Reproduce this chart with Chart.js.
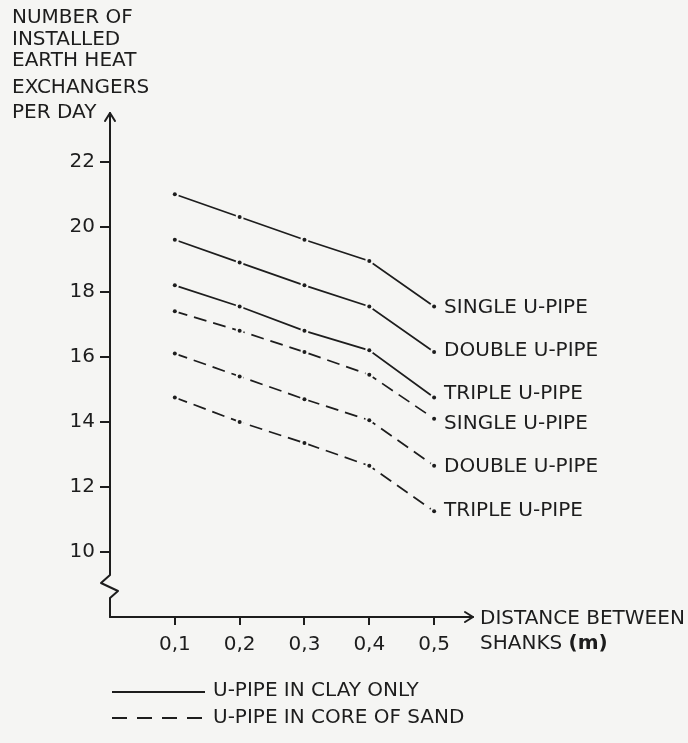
<!DOCTYPE html>
<html>
<head>
<meta charset="utf-8">
<script src="https://cdn.jsdelivr.net/npm/chart.js@4.4.1/dist/chart.umd.min.js"></script>
<style>
  html, body { margin: 0; padding: 0; background: #f5f5f3; }
  canvas { display: block; }
</style>
</head>
<body>
<canvas id="c" width="688" height="743"></canvas>
<script>
// Distance between shanks (m)
const distances = [0.1, 0.2, 0.3, 0.4, 0.5];

// Installed earth heat exchangers per day — U-pipe in clay only
const claySingle = [21.0, 20.3, 19.6, 18.95, 17.55];
const clayDouble = [19.6, 18.9, 18.2, 17.55, 16.15];
const clayTriple = [18.2, 17.55, 16.8, 16.2, 14.75];

// U-pipe in core of sand
const sandSingle = [17.4, 16.8, 16.15, 15.45, 14.1];
const sandDouble = [16.1, 15.4, 14.7, 14.05, 12.65];
const sandTriple = [14.75, 14.0, 13.35, 12.65, 11.25];

const seriesNames = ['SINGLE U-PIPE', 'DOUBLE U-PIPE', 'TRIPLE U-PIPE',
                     'SINGLE U-PIPE', 'DOUBLE U-PIPE', 'TRIPLE U-PIPE'];
const yTicks = [10, 12, 14, 16, 18, 20, 22];
const xTicks = [0.1, 0.2, 0.3, 0.4, 0.5];

const yTitle = ['NUMBER OF', 'INSTALLED', 'EARTH HEAT', 'EXCHANGERS', 'PER DAY'];
const xTitle = ['DISTANCE BETWEEN', 'SHANKS'];
const legendText = ['U-PIPE IN CLAY ONLY', 'U-PIPE IN CORE OF SAND'];

const INK = '#1d1d1d';
const PAPER = '#f5f5f3';
const FONT = '"DejaVu Sans", sans-serif';
const SAND_DASH = [13, 7];

const toPoints = vals => vals.map((v, i) => ({ x: distances[i], y: v }));

function series(vals, dashed) {
  return {
    data: toPoints(vals),
    borderColor: INK,
    borderWidth: 1.7,
    borderDash: dashed ? SAND_DASH : [],
    pointRadius: 0,
    pointHoverRadius: 0,
    fill: false,
    tension: 0
  };
}

// small vertical nudges so the end-of-line names sit clear of each other
const nameShift = [1, -1, -4, 5, 1, -1];

const decor = {
  id: 'decor',
  beforeDraw(chart) {
    const ctx = chart.ctx;
    ctx.save();
    ctx.fillStyle = PAPER;
    ctx.fillRect(0, 0, chart.width, chart.height);
    ctx.restore();
  },
  afterDatasetsDraw(chart) {
    const ctx = chart.ctx;
    ctx.save();
    chart.data.datasets.forEach((ds, i) => {
      const meta = chart.getDatasetMeta(i);
      meta.data.forEach(pt => {
        ctx.fillStyle = PAPER;
        ctx.beginPath(); ctx.arc(pt.x, pt.y, 4, 0, Math.PI * 2); ctx.fill();
        ctx.fillStyle = INK;
        ctx.beginPath(); ctx.arc(pt.x, pt.y, 2, 0, Math.PI * 2); ctx.fill();
      });
      const last = meta.data[meta.data.length - 1];
      ctx.fillStyle = INK;
      ctx.font = '20px ' + FONT;
      ctx.textAlign = 'left';
      ctx.textBaseline = 'middle';
      ctx.fillText(seriesNames[i], last.x + 10, last.y + nameShift[i]);
    });
    ctx.restore();
  },
  afterDraw(chart) {
    const ctx = chart.ctx;
    const a = chart.chartArea;
    const L = a.left, B = a.bottom, T = a.top, R = a.right;
    ctx.save();
    ctx.strokeStyle = INK;
    ctx.fillStyle = INK;
    ctx.lineWidth = 2;
    ctx.lineJoin = 'round';
    ctx.lineCap = 'round';

    // y axis with break symbol
    ctx.beginPath();
    ctx.moveTo(L, B);
    ctx.lineTo(L, B - 19);
    ctx.lineTo(L + 8, B - 26);
    ctx.lineTo(L - 9, B - 34);
    ctx.lineTo(L, B - 42);
    ctx.lineTo(L, T);
    ctx.stroke();
    // y arrow head
    ctx.beginPath();
    ctx.moveTo(L - 5, T + 8); ctx.lineTo(L, T); ctx.lineTo(L + 5, T + 8);
    ctx.stroke();

    // x axis
    ctx.beginPath();
    ctx.moveTo(L, B); ctx.lineTo(R, B);
    ctx.stroke();
    ctx.beginPath();
    ctx.moveTo(R - 8, B - 5); ctx.lineTo(R, B); ctx.lineTo(R - 8, B + 5);
    ctx.stroke();

    // y axis title, stacked lines
    ctx.font = '20px ' + FONT;
    ctx.textAlign = 'left';
    ctx.textBaseline = 'alphabetic';
    const yBase = [23, 45, 66, 93, 118];
    yTitle.forEach((t, i) => ctx.fillText(t, 12, yBase[i]));

    // x axis title
    ctx.textBaseline = 'middle';
    ctx.fillText(xTitle[0], R + 7, B + 2);
    ctx.fillText(xTitle[1] + ' ', R + 7, B + 27);
    const w = ctx.measureText(xTitle[1] + ' ').width;
    ctx.font = 'bold 20px ' + FONT;
    ctx.fillText('(m)', R + 7 + w, B + 27);

    // legend
    ctx.font = '20px ' + FONT;
    ctx.lineWidth = 1.8;
    ctx.lineCap = 'butt';
    ctx.beginPath();
    ctx.moveTo(112, 692); ctx.lineTo(205, 692);
    ctx.stroke();
    ctx.setLineDash([15, 10]);
    ctx.beginPath();
    ctx.moveTo(112, 718); ctx.lineTo(207, 718);
    ctx.stroke();
    ctx.setLineDash([]);
    ctx.fillText(legendText[0], 213, 691);
    ctx.fillText(legendText[1], 213, 718);
    ctx.restore();
  }
};

new Chart(document.getElementById('c'), {
  type: 'line',
  data: {
    datasets: [
      series(claySingle, false),
      series(clayDouble, false),
      series(clayTriple, false),
      series(sandSingle, true),
      series(sandDouble, true),
      series(sandTriple, true)
    ]
  },
  options: {
    responsive: false,
    animation: false,
    devicePixelRatio: 1,
    layout: { padding: { left: 0, right: 215, top: 113, bottom: 0 } },
    plugins: { legend: { display: false }, tooltip: { enabled: false }, title: { display: false } },
    events: [],
    scales: {
      x: {
        type: 'linear',
        position: 'bottom',
        min: 0,
        max: 0.56,
        afterBuildTicks: s => { s.ticks = xTicks.map(v => ({ value: v })); },
        afterFit: s => { s.height = 126; },
        border: { display: false },
        grid: { display: true, drawOnChartArea: false, drawTicks: true, tickLength: 8, color: INK, lineWidth: 2 },
        ticks: {
          color: INK,
          padding: 8,
          maxRotation: 0,
          autoSkip: false,
          font: { family: FONT, size: 20 },
          callback: v => v.toFixed(1).replace('.', ',')
        }
      },
      y: {
        type: 'linear',
        position: 'left',
        min: 8,
        max: 23.5,
        afterBuildTicks: s => { s.ticks = yTicks.map(v => ({ value: v })); },
        afterFit: s => { s.width = 110; },
        border: { display: false },
        grid: { display: true, drawOnChartArea: false, drawTicks: true, tickLength: 10, color: INK, lineWidth: 2 },
        ticks: {
          color: INK,
          padding: 5,
          autoSkip: false,
          font: { family: FONT, size: 20 },
          callback: v => String(v)
        }
      }
    }
  },
  plugins: [decor]
});
</script>
</body>
</html>
